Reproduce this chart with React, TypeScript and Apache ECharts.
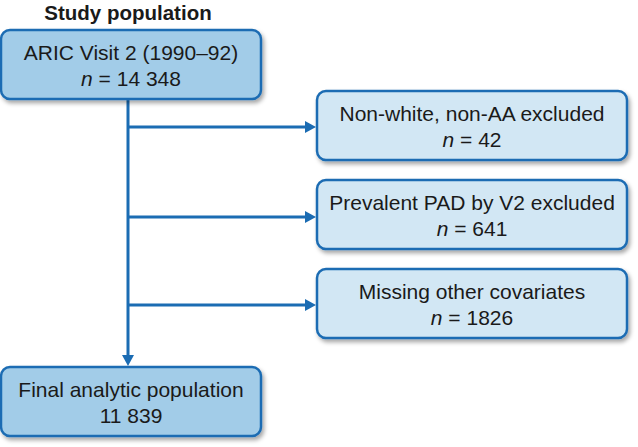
import React, { useEffect, useRef } from "react";
import * as echarts from "echarts";

const title = "Study population";
const mainLabels = ["ARIC Visit 2 (1990–92)", "Final analytic population"];
const mainCounts = ["14 348", "11 839"];
const mainCountPrefix = [true, false];
const exclLabels = [
  "Non-white, non-AA excluded",
  "Prevalent PAD by V2 excluded",
  "Missing other covariates",
];
const exclCounts = ["42", "641", "1826"];

const LINE = "#1b6cb3";
const DARK_FILL = "#a2cce8";
const LIGHT_FILL = "#d2e7f4";
const FONT = "'Liberation Sans', Arial, sans-serif";
const FS = 21;

export default function App() {
  const ref = useRef<HTMLDivElement>(null);
  useEffect(() => {
    if (!ref.current) return;
    const chart = echarts.init(ref.current, null, { renderer: "svg" });
    const els: any[] = [];

    const box = (x: number, y: number, w: number, h: number, fill: string, l1: string, l2: string, italicN: boolean) => {
      els.push({
        type: "rect",
        shape: { x, y, width: w, height: h, r: 9 },
        style: {
          fill,
          stroke: LINE,
          lineWidth: 2.5,
          shadowBlur: 4,
          shadowOffsetX: 2,
          shadowOffsetY: 3,
          shadowColor: "rgba(0,0,0,0.35)",
        },
        z: 2,
      });
      els.push({
        type: "text",
        x: x + w / 2,
        y: y + h / 2 - 12,
        style: {
          text: l1,
          fill: "#1a1a1a",
          font: `${FS}px ${FONT}`,
          align: "center",
          verticalAlign: "middle",
        },
        z: 3,
      });
      els.push({
        type: "text",
        x: x + w / 2,
        y: y + h / 2 + 13.5,
        style: {
          text: italicN ? `{i|n} = ${l2}` : l2,
          fill: "#1a1a1a",
          font: `${FS}px ${FONT}`,
          align: "center",
          verticalAlign: "middle",
          rich: {
            i: { fontStyle: "italic", fontSize: FS, fontFamily: FONT, fill: "#1a1a1a" },
          },
        },
        z: 3,
      });
    };

    // title
    els.push({
      type: "text",
      x: 128,
      y: 12,
      style: {
        text: title,
        fill: "#1a1a1a",
        font: `bold 20.5px ${FONT}`,
        align: "center",
        verticalAlign: "middle",
      },
    });

    const leftX = 1, leftW = 260, boxH = 69;
    const mainY = [30, 367];
    mainLabels.forEach((lab, i) => {
      box(leftX, mainY[i], leftW, boxH, DARK_FILL, lab, mainCounts[i], mainCountPrefix[i]);
    });

    const rightX = 317, rightW = 310;
    const exY = [91, 180, 269];
    const exArrowY = [127, 217, 305];
    exclLabels.forEach((lab, i) => {
      box(rightX, exY[i], rightW, boxH, LIGHT_FILL, lab, exclCounts[i], true);
    });

    const vx = 128;
    els.push({
      type: "line",
      shape: { x1: vx, y1: mainY[0] + boxH, x2: vx, y2: mainY[1] - 9 },
      style: { stroke: LINE, lineWidth: 3 },
      z: 1,
    });
    els.push({
      type: "polygon",
      shape: { points: [[vx - 6, mainY[1] - 12], [vx + 6, mainY[1] - 12], [vx, mainY[1] - 1]] },
      style: { fill: LINE },
      z: 1,
    });
    exArrowY.forEach((ay) => {
      els.push({
        type: "line",
        shape: { x1: vx, y1: ay, x2: rightX - 9, y2: ay },
        style: { stroke: LINE, lineWidth: 3 },
        z: 1,
      });
      els.push({
        type: "polygon",
        shape: { points: [[rightX - 12, ay - 6], [rightX - 12, ay + 6], [rightX - 1, ay]] },
        style: { fill: LINE },
        z: 1,
      });
    });

    chart.setOption({
      animation: false,
      backgroundColor: "#ffffff",
      graphic: { elements: els },
    });
    return () => chart.dispose();
  }, []);
  return (
    <div
      ref={ref}
      style={{ position: "fixed", left: 0, top: 0, width: 638, height: 447 }}
    />
  );
}
